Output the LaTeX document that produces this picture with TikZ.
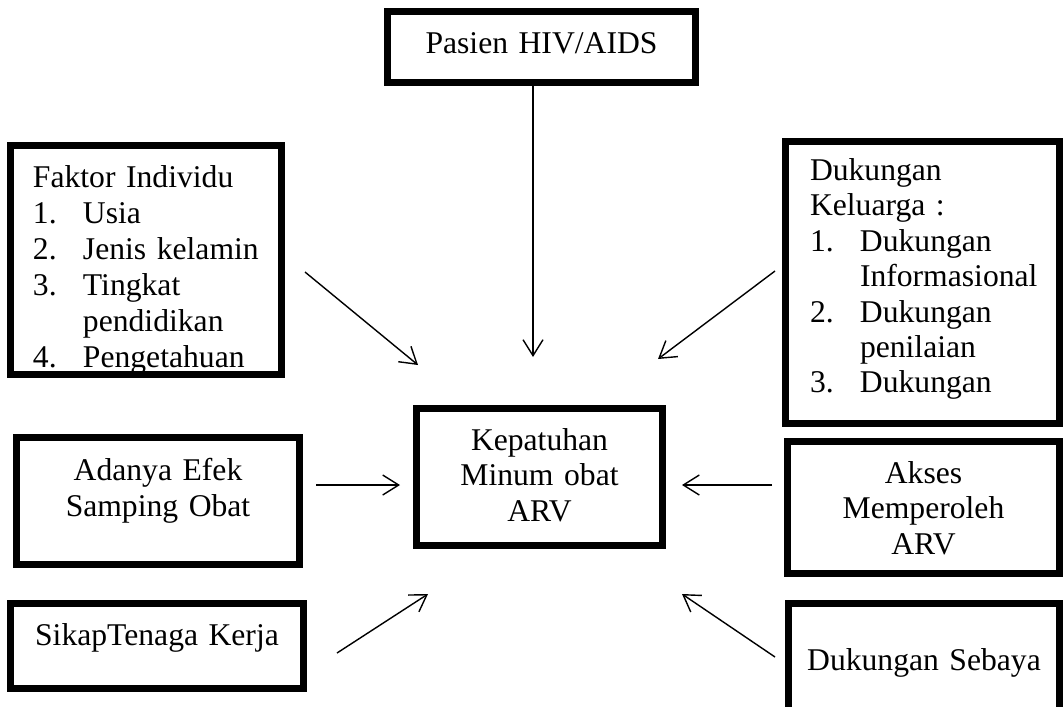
\documentclass[tikz,border=0pt]{standalone}
\usepackage{fontspec}
\setmainfont{Liberation Serif}
\usetikzlibrary{arrows.meta}

\tikzset{
  kotak/.style={draw, line width=2pt, anchor=north west, outer sep=0pt, inner sep=0pt,
    font=\fontsize{9pt}{10.1pt}\selectfont},
  tengah/.style={kotak, align=center},
  kiri/.style={kotak, align=left},
  panah/.style={-{Straight Barb[length=1.6mm,width=2mm]}, line width=0.4pt}
}
\newcommand{\nomor}[1]{\makebox[5mm][l]{#1}}

\begin{document}
\begin{tikzpicture}

    \useasboundingbox (0,0) rectangle (10.63,7.06);
    \clip (0,0) rectangle (10.63,7.06);

    % kotak-kotak
    \node[tengah, text width=30.8mm, text height=4.15mm, text depth=2.95mm] (pasien) at (3.875,6.945) {Pasien HIV/AIDS};
    \node[kiri, inner xsep=2.25mm, text width=22.6mm, text height=4.15mm, text depth=18.75mm,
      font=\fontsize{9pt}{10.25pt}\selectfont] (faktor) at (0.105,5.605)
      {Faktor Individu\\ \nomor{1.}Usia\\ \nomor{2.}Jenis kelamin\\ \nomor{3.}Tingkat\\ \nomor{}pendidikan\\ \nomor{4.}Pengetahuan};
    \node[kiri, inner xsep=2.45mm, text width=22.5mm, text height=3.85mm, text depth=24.35mm] (keluarga) at (7.855,5.645)
      {Dukungan\\ Keluarga :\\ \nomor{1.}Dukungan\\ \nomor{}Informasional\\ \nomor{2.}Dukungan\\ \nomor{}penilaian\\ \nomor{3.}Dukungan};
    \node[tengah, text width=24.6mm, text height=4.15mm, text depth=9.55mm] (kepatuhan) at (4.165,2.975) {Kepatuhan\\ Minum obat\\ ARV};
    \node[tengah, text width=28.3mm, text height=4.3mm, text depth=8.4mm] (efek) at (0.165,2.685) {Adanya Efek\\ Samping Obat};
    \node[tengah, text width=27.2mm, text height=4.15mm, text depth=9.05mm] (akses) at (7.875,2.645) {Akses\\ Memperoleh\\ ARV};
    \node[tengah, text width=29.3mm, text height=4.15mm, text depth=4.35mm] (sikap) at (0.105,1.025) {SikapTenaga Kerja};
    \node[tengah, text width=27.1mm, text height=6.65mm, text depth=5.65mm] (sebaya) at (7.885,1.025) {Dukungan Sebaya};

    % ujung panah
    \coordinate (tPasien) at (5.33,3.49);
    \coordinate (sFaktor) at (3.05,4.34);
    \coordinate (tFaktor) at (4.18,3.41);
    \coordinate (sKeluarga) at (7.75,4.35);
    \coordinate (tKeluarga) at (6.58,3.47);
    \coordinate (sEfek) at (3.16,2.21);
    \coordinate (tEfek) at (4.00,2.21);
    \coordinate (sAkses) at (7.72,2.21);
    \coordinate (tAkses) at (6.82,2.21);
    \coordinate (sSikap) at (3.37,0.53);
    \coordinate (tSikap) at (4.28,1.12);
    \coordinate (sSebaya) at (7.75,0.49);
    \coordinate (tSebaya) at (6.82,1.12);

    \draw[panah] (pasien.south -| tPasien) -- (tPasien);
    \draw[panah] (sFaktor) -- (tFaktor);
    \draw[panah] (sKeluarga) -- (tKeluarga);
    \draw[panah] (sEfek) -- (tEfek);
    \draw[panah] (sAkses) -- (tAkses);
    \draw[panah] (sSikap) -- (tSikap);
    \draw[panah] (sSebaya) -- (tSebaya);

\end{tikzpicture}
\end{document}
